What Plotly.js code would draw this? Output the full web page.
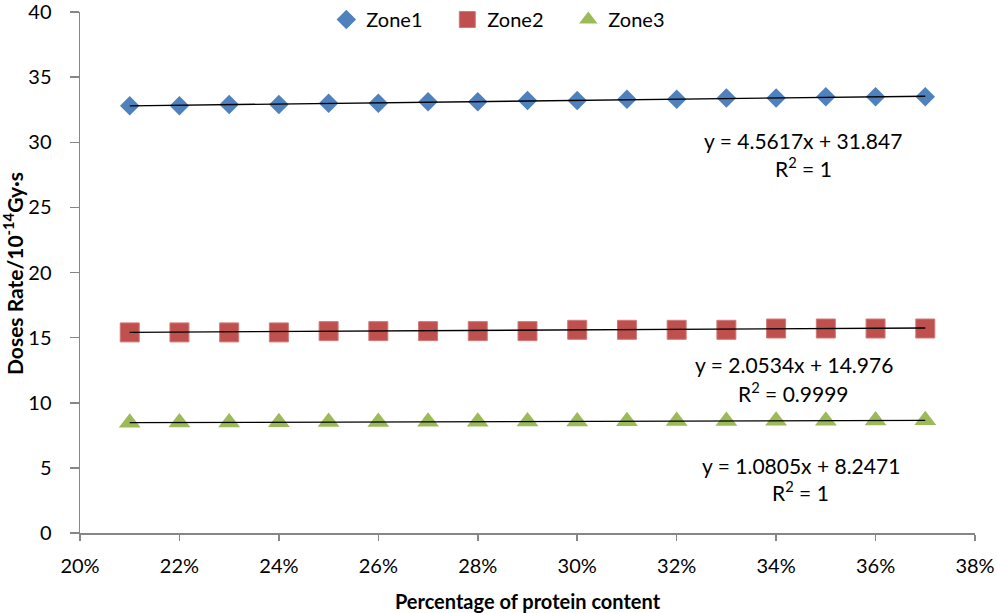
<!DOCTYPE html>
<html>
<head>
<meta charset="utf-8">
<script src="https://cdn.plot.ly/plotly-3.0.1.min.js"></script>
<style>html,body{margin:0;padding:0;background:#fff;}#chart{width:997px;height:613px;}</style>
</head>
<body>
<div id="chart"></div>
<script>
var protein = [0.21,0.22,0.23,0.24,0.25,0.26,0.27,0.28,0.29,0.30,0.31,0.32,0.33,0.34,0.35,0.36,0.37];
var zone1 = [32.8,32.8,32.9,32.9,33.0,33.0,33.1,33.1,33.2,33.2,33.3,33.3,33.4,33.4,33.5,33.5,33.5];
var zone2 = [15.4,15.4,15.4,15.4,15.5,15.5,15.5,15.5,15.5,15.6,15.6,15.6,15.6,15.7,15.7,15.7,15.7];
var zone3 = [8.47,8.48,8.49,8.51,8.52,8.53,8.54,8.55,8.56,8.57,8.58,8.59,8.60,8.61,8.62,8.64,8.65];
var trendX = [0.21, 0.37];
var trend1 = [32.8, 33.53];
var trend2 = [15.41, 15.74];
var trend3 = [8.47, 8.65];
var eqLabels = [
  {text:"y = 4.5617x + 31.847", x:0.3455, y:30.1},
  {text:"R<sup>2</sup> = 1", x:0.3455, y:28.1},
  {text:"y = 2.0534x + 14.976", x:0.3435, y:12.9},
  {text:"R<sup>2</sup> = 0.9999", x:0.3435, y:10.8},
  {text:"y = 1.0805x + 8.2471", x:0.345, y:5.2},
  {text:"R<sup>2</sup> = 1", x:0.345, y:3.2}
];
var yTitle = "Doses Rate/10<sup>-14</sup>Gy·s";

var FONT = "Lato, 'Open Sans', sans-serif";
var traces = [
  {x:protein, y:zone1, name:"Zone1", type:"scatter", mode:"markers",
   marker:{symbol:"diamond", size:15, color:"#4F81BD", line:{width:0}}},
  {x:protein, y:zone2, name:"Zone2", type:"scatter", mode:"markers",
   marker:{symbol:"square", size:19, color:"#C0504D", line:{width:1, color:"#D07a78"}}},
  {x:protein, y:zone3, name:"Zone3", type:"scatter", mode:"markers",
   marker:{symbol:"triangle-up", size:19, color:"#9BBB59", line:{width:0}}},
  {x:trendX, y:trend1, mode:"lines", line:{color:"#000", width:1.3}, showlegend:false, hoverinfo:"skip"},
  {x:trendX, y:trend2, mode:"lines", line:{color:"#000", width:1.3}, showlegend:false, hoverinfo:"skip"},
  {x:trendX, y:trend3, mode:"lines", line:{color:"#000", width:1.3}, showlegend:false, hoverinfo:"skip"}
];

var annots = eqLabels.map(function(a){
  return {x:a.x, y:a.y, xref:"x", yref:"y", text:a.text, showarrow:false,
          xanchor:"center", yanchor:"middle", font:{family:FONT, size:21, color:"#000"}};
});
annots.push({xref:"paper", yref:"paper", x:-67/895, y:(533-274)/533, text:yTitle,
             textangle:-90, showarrow:false, xanchor:"center", yanchor:"middle",
             font:{family:FONT, size:21, color:"#000", weight:"bold"}});

var layout = {
  width:997, height:613,
  margin:{l:80, r:22, t:0, b:80},
  paper_bgcolor:"#fff", plot_bgcolor:"#fff",
  font:{family:FONT, size:20, color:"#000"},
  showlegend:true,
  legend:{orientation:"h", x:0.478, xanchor:"center", y:1.0, yanchor:"top",
          entrywidth:76, entrywidthmode:"pixels",
          font:{family:FONT, size:20, color:"#000"}, bgcolor:"rgba(0,0,0,0)",
          itemwidth:30, tracegroupgap:0},
  xaxis:{range:[0.20,0.38], dtick:0.02, tick0:0.20, tickformat:".0%",
         showgrid:false, zeroline:false, showline:true, linecolor:"#868686", linewidth:1.5,
         ticks:"outside", ticklen:6, tickcolor:"#868686", tickwidth:1.5,
         ticklabelstandoff:8, ticklabeloverflow:"allow",
         tickfont:{family:FONT, size:20, color:"#000"},
         title:{text:"Percentage of protein content", standoff:22,
                font:{family:FONT, size:20, color:"#000", weight:"bold"}}},
  yaxis:{range:[0,40], domain:[0, 1 - 12/533], dtick:5, showgrid:false, zeroline:false, showline:true,
         linecolor:"#868686", linewidth:1.5, ticks:"outside", ticklen:9, tickcolor:"#868686", tickwidth:1.5,
         ticklabelstandoff:14, ticklabeloverflow:"allow",
         tickfont:{family:FONT, size:20, color:"#000"}},
  annotations: annots
};

Plotly.newPlot("chart", traces, layout, {displayModeBar:false, staticPlot:true});
</script>
</body>
</html>
